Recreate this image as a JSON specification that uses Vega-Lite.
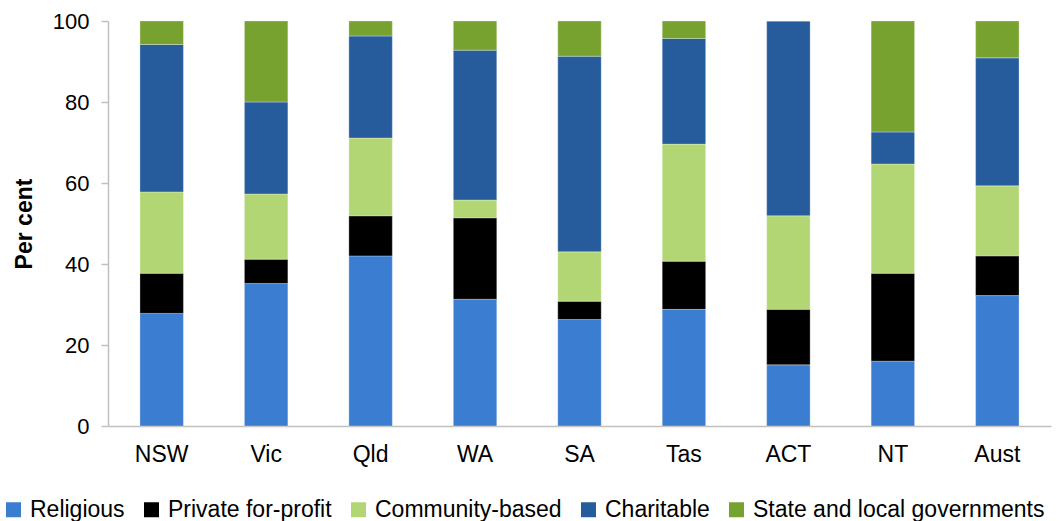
{
  "$schema": "https://vega.github.io/schema/vega-lite/v6.json",
  "width": 943,
  "height": 405,
  "autosize": {"type": "none"},
  "padding": {"left": 108, "top": 21, "right": 8, "bottom": 95},
  "background": "white",
  "config": {
    "view": {"stroke": null},
    "font": "Liberation Sans"
  },
  "data": {
    "values": [
      {"state": "NSW", "type": "Religious", "rank": 1, "value": 27.8},
      {"state": "NSW", "type": "Private for-profit", "rank": 2, "value": 9.9},
      {"state": "NSW", "type": "Community-based", "rank": 3, "value": 20.1},
      {"state": "NSW", "type": "Charitable", "rank": 4, "value": 36.4},
      {"state": "NSW", "type": "State and local governments", "rank": 5, "value": 5.8},
      {"state": "Vic", "type": "Religious", "rank": 1, "value": 35.2},
      {"state": "Vic", "type": "Private for-profit", "rank": 2, "value": 6.0},
      {"state": "Vic", "type": "Community-based", "rank": 3, "value": 16.1},
      {"state": "Vic", "type": "Charitable", "rank": 4, "value": 22.7},
      {"state": "Vic", "type": "State and local governments", "rank": 5, "value": 20.0},
      {"state": "Qld", "type": "Religious", "rank": 1, "value": 42.0},
      {"state": "Qld", "type": "Private for-profit", "rank": 2, "value": 9.9},
      {"state": "Qld", "type": "Community-based", "rank": 3, "value": 19.2},
      {"state": "Qld", "type": "Charitable", "rank": 4, "value": 25.2},
      {"state": "Qld", "type": "State and local governments", "rank": 5, "value": 3.7},
      {"state": "WA", "type": "Religious", "rank": 1, "value": 31.3},
      {"state": "WA", "type": "Private for-profit", "rank": 2, "value": 20.1},
      {"state": "WA", "type": "Community-based", "rank": 3, "value": 4.4},
      {"state": "WA", "type": "Charitable", "rank": 4, "value": 37.0},
      {"state": "WA", "type": "State and local governments", "rank": 5, "value": 7.2},
      {"state": "SA", "type": "Religious", "rank": 1, "value": 26.3},
      {"state": "SA", "type": "Private for-profit", "rank": 2, "value": 4.5},
      {"state": "SA", "type": "Community-based", "rank": 3, "value": 12.2},
      {"state": "SA", "type": "Charitable", "rank": 4, "value": 48.3},
      {"state": "SA", "type": "State and local governments", "rank": 5, "value": 8.7},
      {"state": "Tas", "type": "Religious", "rank": 1, "value": 28.8},
      {"state": "Tas", "type": "Private for-profit", "rank": 2, "value": 11.9},
      {"state": "Tas", "type": "Community-based", "rank": 3, "value": 28.9},
      {"state": "Tas", "type": "Charitable", "rank": 4, "value": 26.1},
      {"state": "Tas", "type": "State and local governments", "rank": 5, "value": 4.3},
      {"state": "ACT", "type": "Religious", "rank": 1, "value": 15.1},
      {"state": "ACT", "type": "Private for-profit", "rank": 2, "value": 13.7},
      {"state": "ACT", "type": "Community-based", "rank": 3, "value": 23.1},
      {"state": "ACT", "type": "Charitable", "rank": 4, "value": 48.1},
      {"state": "ACT", "type": "State and local governments", "rank": 5, "value": 0},
      {"state": "NT", "type": "Religious", "rank": 1, "value": 16.0},
      {"state": "NT", "type": "Private for-profit", "rank": 2, "value": 21.7},
      {"state": "NT", "type": "Community-based", "rank": 3, "value": 27.0},
      {"state": "NT", "type": "Charitable", "rank": 4, "value": 7.9},
      {"state": "NT", "type": "State and local governments", "rank": 5, "value": 27.4},
      {"state": "Aust", "type": "Religious", "rank": 1, "value": 32.2},
      {"state": "Aust", "type": "Private for-profit", "rank": 2, "value": 9.8},
      {"state": "Aust", "type": "Community-based", "rank": 3, "value": 17.3},
      {"state": "Aust", "type": "Charitable", "rank": 4, "value": 31.6},
      {"state": "Aust", "type": "State and local governments", "rank": 5, "value": 9.1}
    ]
  },
  "mark": {"type": "bar", "stroke": "#ffffff", "strokeWidth": 0.5, "strokeOpacity": 0.6},
  "encoding": {
    "x": {
      "field": "state",
      "type": "nominal",
      "sort": ["NSW", "Vic", "Qld", "WA", "SA", "Tas", "ACT", "NT", "Aust"],
      "scale": {"paddingInner": 0.584, "paddingOuter": 0.306},
      "axis": {
        "title": null,
        "labelAngle": 0,
        "labelFontSize": 23,
        "labelColor": "#000000",
        "labelPadding": 17,
        "ticks": false,
        "domainColor": "#c0c0c0",
        "domainWidth": 1.5
      }
    },
    "y": {
      "field": "value",
      "type": "quantitative",
      "stack": "zero",
      "scale": {"domain": [0, 100], "nice": false},
      "axis": {
        "title": "Per cent",
        "titleFontSize": 23,
        "titleFontWeight": "bold",
        "titleColor": "#000000",
        "titlePadding": 16,
        "values": [0, 20, 40, 60, 80, 100],
        "labelFontSize": 22,
        "labelColor": "#000000",
        "labelPadding": 12,
        "grid": false,
        "tickColor": "#c0c0c0",
        "tickSize": 7,
        "tickWidth": 1.5,
        "domainColor": "#c0c0c0",
        "domainWidth": 1.5
      }
    },
    "color": {
      "field": "type",
      "type": "nominal",
      "sort": ["Religious", "Private for-profit", "Community-based", "Charitable", "State and local governments"],
      "scale": {
        "domain": ["Religious", "Private for-profit", "Community-based", "Charitable", "State and local governments"],
        "range": ["#3A7DD1", "#000000", "#B3D675", "#265C9B", "#78A22F"]
      },
      "legend": {
        "title": null,
        "orient": "none",
        "direction": "horizontal",
        "legendX": -106,
        "legendY": 477,
        "symbolType": "square",
        "symbolSize": 225,
        "symbolStrokeWidth": 0,
        "labelFontSize": 23,
        "labelColor": "#000000",
        "labelOffset": 5,
        "columnPadding": 15,
        "labelLimit": 400
      }
    },
    "order": {"field": "rank", "type": "quantitative", "sort": "ascending"}
  }
}
